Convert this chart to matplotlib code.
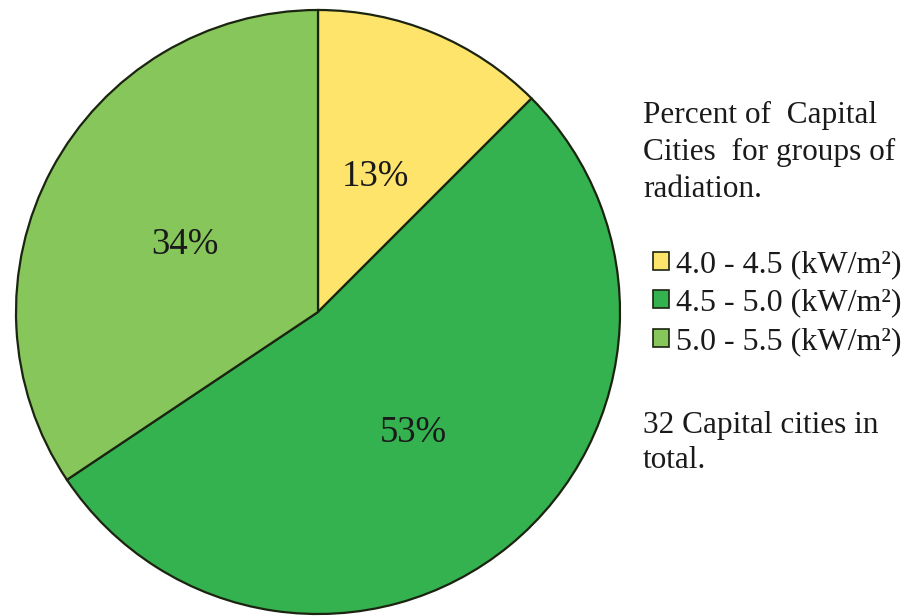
import matplotlib
matplotlib.use("Agg")
import matplotlib.pyplot as plt

categories = ["4.0 - 4.5 (kW/m²)", "4.5 - 5.0 (kW/m²)", "5.0 - 5.5 (kW/m²)"]
counts = [4, 17, 11]
colors = ["#FFE46C", "#34B24F", "#86C65A"]
title_lines = ["Percent of  Capital", "Cities  for groups of", "radiation."]
note_lines = ["32 Capital cities in", "total."]

W, H = 909, 616
fig = plt.figure(figsize=(W / 100, H / 100), dpi=100)
plt.rcParams['font.family'] = ['Liberation Serif', 'DejaVu Serif']

cx, cy, R = 318, 312, 302
ax = fig.add_axes([(cx - R) / W, (H - cy - R) / H, 2 * R / W, 2 * R / H])

def fmt(p):
    return f"{int(p + 0.5)}%"

wedges, texts, autotexts = ax.pie(
    counts, colors=colors, startangle=90, counterclock=False,
    autopct=fmt, pctdistance=0.5,
    wedgeprops=dict(edgecolor="#1b2410", linewidth=1.6),
    textprops=dict(fontsize=26.5, color="#1a1a1a"))
for w in wedges:
    w.set_clip_on(False)
for t in autotexts:
    t.set_va("center_baseline")
ax.set_xlim(-1, 1)
ax.set_ylim(-1, 1)
ax.set_aspect("equal")
ax.axis("off")

fs = 22.5
tx = 643
for i, line in enumerate(title_lines):
    fig.text(tx / W, 1 - (123 + 37 * i) / H, line, fontsize=fs,
             va="baseline", ha="left", color="#1a1a1a")

for i, line in enumerate(note_lines):
    fig.text(tx / W, 1 - (433 + 35 * i) / H, line, fontsize=fs,
             va="baseline", ha="left", color="#1a1a1a")

leg = fig.legend(wedges, categories, loc="upper left",
                 bbox_to_anchor=(653 / W, 1 - 250 / H),
                 frameon=False, fontsize=23, borderpad=0, borderaxespad=0,
                 handlelength=0.5, handleheight=0.5, handletextpad=0.22,
                 labelspacing=0.3)
for t in leg.get_texts():
    t.set_color("#1a1a1a")
for h in leg.legend_handles:
    h.set_linewidth(1.2)

fig.savefig("out.png", dpi=100)
